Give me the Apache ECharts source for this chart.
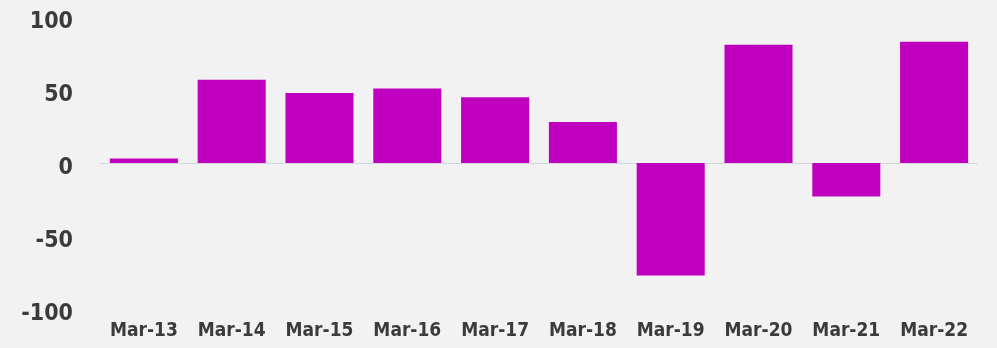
<!DOCTYPE html>
<html>
<head>
<meta charset="utf-8">
<script src="https://cdn.jsdelivr.net/npm/echarts@6/dist/echarts.min.js"></script>
<style>
  html, body { margin: 0; padding: 0; background: #f2f2f2; }
  #chart { width: 997px; height: 348px; }
</style>
</head>
<body>
<div id="chart"></div>
<script>
// Yearly change by March period
const categories = ['Mar-13', 'Mar-14', 'Mar-15', 'Mar-16', 'Mar-17', 'Mar-18', 'Mar-19', 'Mar-20', 'Mar-21', 'Mar-22'];
const values = [3, 57, 48, 51, 45, 28, -77, 81, -23, 83];
const yTicks = { min: -100, max: 100, interval: 50 };

const FONT = '"DejaVu Sans Condensed", "Roboto", sans-serif';
const TEXT = '#3b3b3b';

const chart = echarts.init(document.getElementById('chart'));
chart.setOption({
  backgroundColor: '#f2f2f2',
  animation: false,
  grid: { left: 100, right: 19, top: 17, bottom: 39 },
  xAxis: {
    type: 'category',
    data: categories,
    axisLine: { show: false, onZero: false },
    axisTick: { show: false },
    axisLabel: {
      interval: 0,
      margin: 13,
      color: TEXT,
      fontFamily: FONT,
      fontWeight: 'bold',
      fontSize: 19
    }
  },
  yAxis: {
    type: 'value',
    min: yTicks.min,
    max: yTicks.max,
    interval: yTicks.interval,
    axisLine: { show: false },
    axisTick: { show: false },
    splitLine: {
      show: true,
      lineStyle: {
        // only the zero baseline is drawn
        color: ['rgba(0,0,0,0)', 'rgba(0,0,0,0)', '#d6d6d6', 'rgba(0,0,0,0)', 'rgba(0,0,0,0)'],
        width: 1
      }
    },
    axisLabel: {
      margin: 27,
      verticalAlign: 'top',
      lineHeight: 10,
      color: TEXT,
      fontFamily: FONT,
      fontWeight: 'bold',
      fontSize: 23
    }
  },
  series: [{
    type: 'bar',
    data: values,
    barCategoryGap: '22.5%',
    itemStyle: { color: '#bf00bf' }
  }]
});
</script>
</body>
</html>
